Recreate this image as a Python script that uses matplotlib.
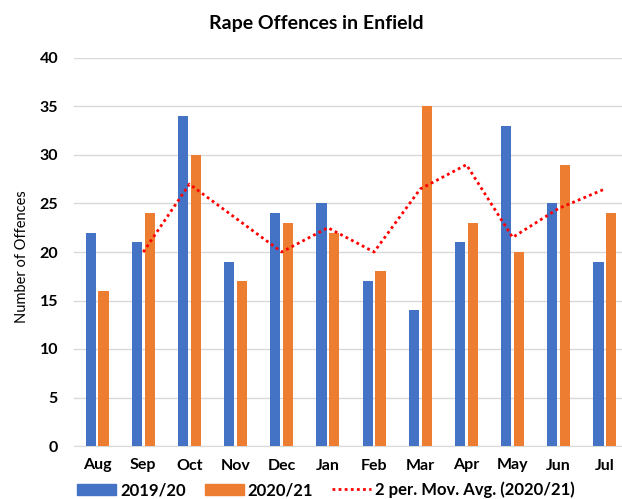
import matplotlib
matplotlib.use("Agg")
import matplotlib.pyplot as plt
import numpy as np
from matplotlib.lines import Line2D
from matplotlib.patches import Patch

months = ["Aug", "Sep", "Oct", "Nov", "Dec", "Jan", "Feb", "Mar", "Apr", "May", "Jun", "Jul"]
y2019 = [22, 21, 34, 19, 24, 25, 17, 14, 21, 33, 25, 19]
y2020 = [16, 24, 30, 17, 23, 22, 18, 35, 23, 20, 29, 24]
mov_avg = [None, 20, 27, 23.5, 20, 22.5, 20, 26.5, 29, 21.5, 24.5, 26.5]

plt.rcParams['font.family'] = ['Lato', 'DejaVu Sans']

fig = plt.figure(figsize=(6.22, 4.99), dpi=100)
W, H = 622, 499
left = 74 / W
right = 628 / W
bottom = (H - 446) / H
top = (H - 58) / H
ax = fig.add_axes([left, bottom, right - left, top - bottom])

x = np.arange(len(months))
bw = 0.22
off = 0.14
blue = "#4472C4"
orange = "#ED7D31"
ax.bar(x - off, y2019, width=bw, color=blue, zorder=3)
ax.bar(x + off, y2020, width=bw, color=orange, zorder=3)
mx = [i for i, v in enumerate(mov_avg) if v is not None]
my = [v for v in mov_avg if v is not None]
ax.plot(mx, my, color="#FF0000", linestyle=(0, (1, 1.2)), linewidth=2, zorder=4)

ax.set_xlim(-0.5, len(months) - 0.5)
ax.set_ylim(0, 40)
ax.set_yticks(range(0, 41, 5))
ax.set_xticks(x)
ax.set_xticklabels(months)
for lab in ax.get_xticklabels() + ax.get_yticklabels():
    lab.set_fontweight('bold')
    lab.set_fontsize(11.5)
    lab.set_color('#000000')
ax.tick_params(axis='both', length=0)
ax.tick_params(axis='x', pad=9)
ax.tick_params(axis='y', pad=11.5)
ax.grid(axis='y', color='#D9D9D9', linewidth=1, zorder=0)
for s in ['top', 'right', 'left']:
    ax.spines[s].set_visible(False)
ax.spines['bottom'].set_color('#D9D9D9')

fig.text(22 / W, 0.5 * (top + bottom) - 0.01, "Number of Offences", rotation=90,
         ha='center', va='center', fontsize=10.5)
fig.text(316 / W, (H - 23) / H, "Rape Offences in Enfield",
         ha='center', va='center', fontsize=14, fontweight='bold')

handles = [Patch(color=blue), Patch(color=orange),
           Line2D([0], [0], color="#FF0000", linestyle=(0, (1, 1.2)), linewidth=2)]
labels = ["2019/20", "2020/21", "2 per. Mov. Avg. (2020/21)"]
leg = fig.legend(handles, labels, loc='center left', bbox_to_anchor=(77 / W, (H - 490) / H),
                 ncol=3, frameon=False, fontsize=12, handlelength=2.33, handleheight=0.7,
                 columnspacing=1.15, handletextpad=0.25, borderpad=0, borderaxespad=0)
for t in leg.get_texts():
    t.set_fontweight('bold')

fig.savefig("out.png", dpi=100)
